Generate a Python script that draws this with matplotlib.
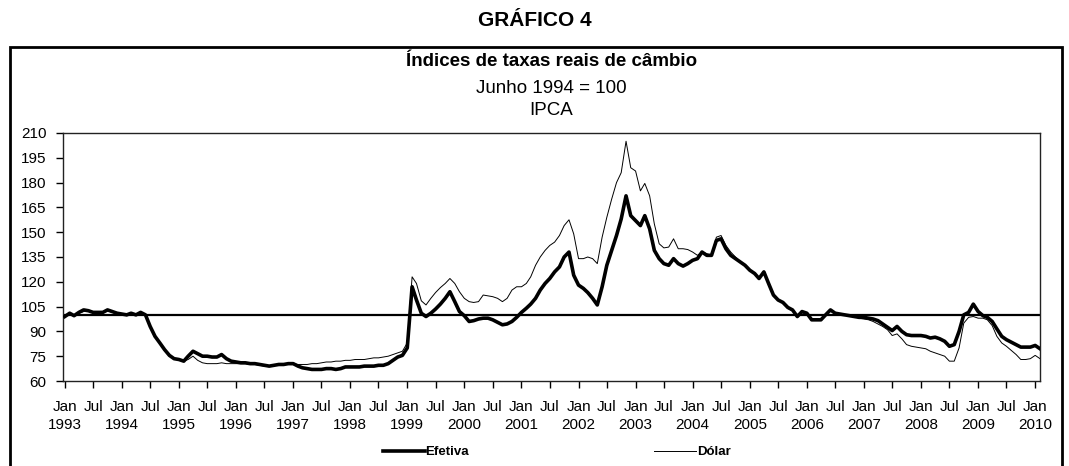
import matplotlib
matplotlib.use('Agg')
import matplotlib.pyplot as plt
import pandas as pd
from matplotlib.patches import Rectangle

plt.rcParams['font.family'] = ['Liberation Sans', 'DejaVu Sans']

# monthly, Jan 1993 - Feb 2010 (jun 1994 = 100)
meses = pd.date_range('1993-01-01', periods=206, freq='MS')

efetiva = [
    # 1993
    99, 101, 99.5, 101.5, 103, 102.5, 101.5, 101.5, 101.5, 103, 102, 101,
    # 1994
    100.5, 100, 101, 100, 101.5, 100, 93, 87, 83, 79, 75.5, 73.5,
    # 1995
    73, 72, 75, 78, 76.5, 75, 75, 74.5, 74.5, 76, 73.5, 72,
    # 1996
    71.5, 71, 71, 70.5, 70.5, 70, 69.5, 69, 69.5, 70, 70, 70.5,
    # 1997
    70.5, 69, 68, 67.5, 67, 67, 67, 67.5, 67.5, 67, 67.5, 68.5,
    # 1998
    68.5, 68.5, 68.5, 69, 69, 69, 69.5, 69.5, 70.5, 72.5, 74.5, 75.5,
    # 1999
    80, 117, 109, 101, 99, 101, 103.5, 106.5, 110, 114, 108, 102,
    # 2000
    99.5, 96, 96.5, 97.5, 98, 98, 97, 95.5, 94, 94.5, 96, 98.5,
    # 2001
    101.5, 104, 106.5, 110, 115, 119, 122, 126, 129, 135, 138, 124,
    # 2002
    118, 116, 113.5, 110, 106, 117, 130, 139, 148, 158, 172, 160,
    # 2003
    157, 154, 160, 152, 139, 134, 131, 130, 134, 131, 129.5, 131,
    # 2004
    133, 134, 138, 136, 136, 145, 146, 140, 136, 134, 132, 130,
    # 2005
    127, 125, 122, 126, 119, 112, 109, 107.5, 104.5, 103, 99, 102,
    # 2006
    101, 97, 97, 97, 100, 103, 101, 100.5, 100, 99.5, 99, 98.5,
    # 2007
    98.5, 98, 97.5, 96.5, 94.5, 92.5, 90.5, 93, 90, 88, 87.5, 87.5,
    # 2008
    87.5, 87, 86, 86.5, 85.5, 84, 81, 82, 90, 100, 101.5, 106.5,
    # 2009
    102, 99.5, 98.5, 96, 91.5, 87, 85, 83.5, 82, 80.5, 80.5, 80.5,
    # 2010
    81.5, 79.5,
]

dolar = [
    # 1993
    99, 100.5, 100, 101, 102, 102.5, 101.5, 101, 102, 102.5, 101.5, 101,
    # 1994
    100, 99.5, 101, 100.5, 101, 100, 93, 87, 82.5, 78.5, 75, 73.5,
    # 1995
    73, 72, 73, 75, 72.5, 71, 70.5, 70.5, 70.5, 71, 70.5, 70.5,
    # 1996
    70.5, 70.5, 70.5, 70, 70, 69.5, 69, 69, 69.5, 70, 70, 70.5,
    # 1997
    70.5, 70, 70, 70, 70.5, 70.5, 71, 71.5, 71.5, 72, 72, 72.5,
    # 1998
    72.5, 73, 73, 73, 73.5, 74, 74, 74.5, 75, 76, 77, 78,
    # 1999
    83, 123, 119, 108.5, 106, 110, 113.5, 116.5, 119, 122, 119, 114,
    # 2000
    110, 108, 107.5, 108, 112, 111.5, 111, 110, 108, 110, 115, 117,
    # 2001
    117, 119, 123, 130, 135, 139, 142, 144, 148, 154, 157.5, 149,
    # 2002
    134, 134, 135, 134, 131, 147, 159, 170, 180, 186, 205, 189,
    # 2003
    187, 175, 179.5, 172, 155, 143, 140.5, 141, 146, 140, 140, 139.5,
    # 2004
    138, 136, 138, 137, 136, 147, 148, 142, 138, 135, 132, 130,
    # 2005
    127, 125, 122, 126, 119.5, 112, 109, 107, 104, 102.5, 99, 101.5,
    # 2006
    100.5, 97, 97, 97, 100, 103, 101, 100.5, 100, 99.5, 99, 98,
    # 2007
    97.5, 97, 96, 94.5, 93, 91, 87.5, 88.5, 85.5, 82, 81, 80.5,
    # 2008
    80, 79.5, 78, 77, 76, 75, 72, 72, 80, 95, 98.5, 99,
    # 2009
    98, 98, 97, 93.5, 87, 83, 81, 78.5, 76, 73, 73, 73.5,
    # 2010
    75.5, 73.5,
]

base = 100
yticks = list(range(60, 211, 15))
tick_dates = pd.date_range('1993-01-01', '2010-01-01', freq='6MS')
tick_labels = [f'Jan\n{d.year}' if d.month == 1 else 'Jul' for d in tick_dates]

fig = plt.figure(figsize=(10.69, 4.66), dpi=100)
ax = fig.add_axes([0.0589, 0.1824, 0.9140, 0.5322])

ax.plot(meses, efetiva, color='black', lw=2.6, label='Efetiva', zorder=3)
ax.plot(meses, dolar, color='black', lw=0.7, label='Dólar', zorder=2)
ax.axhline(base, color='black', lw=1.6, zorder=1)

ax.set_ylim(60, 210)
ax.set_yticks(yticks)
ax.set_xlim(pd.Timestamp('1992-12-20'), pd.Timestamp('2010-02-01'))
ax.set_xticks(tick_dates)
ax.set_xticklabels(tick_labels, linespacing=1.3)
ax.tick_params(axis='both', direction='out', length=5, width=1, labelsize=11, colors='black')
ax.tick_params(axis='y', pad=7)
ax.tick_params(axis='x', pad=9)
for s in ax.spines.values():
    s.set_linewidth(1)
    s.set_color('#222222')

fig.text(0.5, 0.955, 'GRÁFICO 4', ha='center', va='center', fontsize=15, fontweight='bold')
fig.text(0.516, 0.867, 'Índices de taxas reais de câmbio', ha='center', va='center',
         fontsize=13.5, fontweight='bold')
fig.text(0.516, 0.811, 'Junho 1994 = 100', ha='center', va='center', fontsize=13.5)
fig.text(0.516, 0.762, 'IPCA', ha='center', va='center', fontsize=13.5)

fig.patches.append(Rectangle((0.0094, -0.02), 0.984, 0.919, transform=fig.transFigure,
                             fill=False, lw=2, edgecolor='black'))

leg = fig.legend(loc='center', bbox_to_anchor=(0.5206, 0.03), ncol=2, frameon=False,
                 handlelength=3.2, handletextpad=0.05, columnspacing=14,
                 prop={'size': 9.5, 'weight': 'bold'})

fig.savefig('out.png', dpi=100)
